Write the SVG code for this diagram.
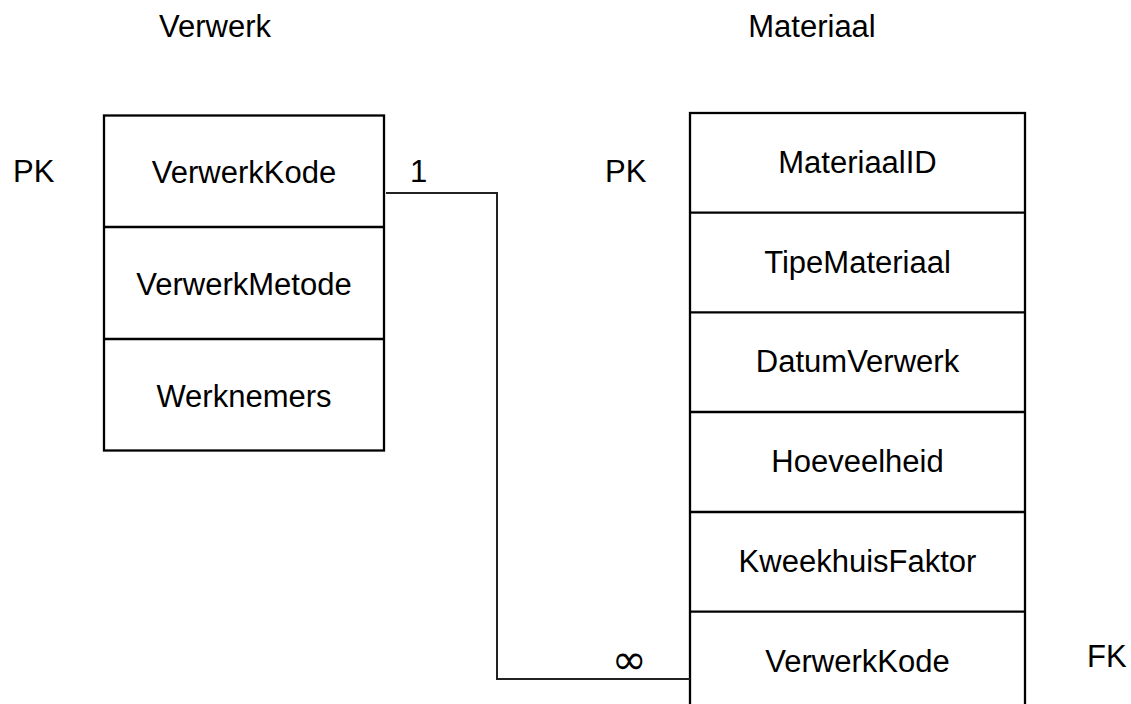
<svg xmlns="http://www.w3.org/2000/svg" width="1131" height="704" viewBox="0 0 1131 704">
<style>
text{font-family:"Liberation Sans",Arial,sans-serif;font-size:31px;fill:#000}
.c{text-anchor:middle}
.box{fill:#fff;stroke:#000;stroke-width:2.3}
.div{stroke:#000;stroke-width:2.3}
.con{fill:none;stroke:#222;stroke-width:2}
</style>
<rect width="1131" height="704" fill="#fff"/>
<text class="c" x="215" y="37">Verwerk</text>
<text class="c" x="812" y="37">Materiaal</text>
<g id="verwerk">
<rect class="box" x="104" y="115.5" width="280" height="335"/>
<line class="div" x1="104" y1="227" x2="384" y2="227"/>
<line class="div" x1="104" y1="339" x2="384" y2="339"/>
<text x="13" y="182">PK</text>
<text class="c" x="244" y="183">VerwerkKode</text>
<text class="c" x="244" y="295">VerwerkMetode</text>
<text class="c" x="244" y="407">Werknemers</text>
</g>
<g id="materiaal">
<rect class="box" x="690" y="113" width="335" height="610"/>
<line class="div" x1="690" y1="212.7" x2="1025" y2="212.7"/>
<line class="div" x1="690" y1="312.4" x2="1025" y2="312.4"/>
<line class="div" x1="690" y1="412" x2="1025" y2="412"/>
<line class="div" x1="690" y1="512" x2="1025" y2="512"/>
<line class="div" x1="690" y1="611.7" x2="1025" y2="611.7"/>
<text x="605" y="182">PK</text>
<text class="c" x="857.5" y="173">MateriaalID</text>
<text class="c" x="857.5" y="272.5">TipeMateriaal</text>
<text class="c" x="857.5" y="372">DatumVerwerk</text>
<text class="c" x="857.5" y="472">Hoeveelheid</text>
<text class="c" x="857.5" y="572">KweekhuisFaktor</text>
<text class="c" x="857.5" y="671.5">VerwerkKode</text>
<text x="1087" y="667">FK</text>
</g>
<g id="connectors">
<polyline class="con" points="386,193 497,193 497,679 690,679"/>
<text x="410" y="182">1</text>
<text class="c" x="629" y="674" style="font-family:'DejaVu Sans',sans-serif;font-size:42px">∞</text>
</g>
</svg>
